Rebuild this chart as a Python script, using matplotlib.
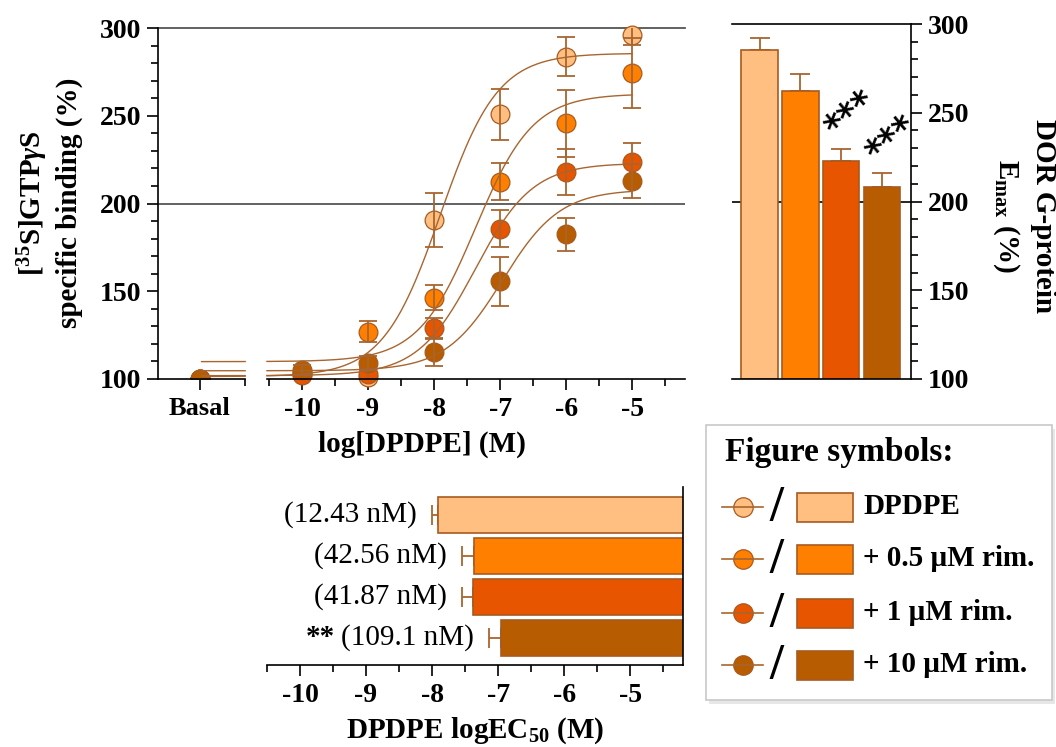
import numpy as np
import matplotlib
matplotlib.use("Agg")
import matplotlib.pyplot as plt
from matplotlib.patches import Rectangle
from matplotlib.ticker import FixedLocator

plt.rcParams['font.family'] = ['Liberation Serif', 'DejaVu Serif']
plt.rcParams['mathtext.fontset'] = 'custom'
plt.rcParams['mathtext.rm'] = 'Liberation Serif:bold'
plt.rcParams['mathtext.bf'] = 'Liberation Serif:bold'
plt.rcParams['mathtext.it'] = 'Liberation Serif:italic:bold'

# ---------------- data ----------------
groups = ["DPDPE", "+ 0.5 µM rim.", "+ 1 µM rim.", "+ 10 µM rim."]
colors = ["#FFBF80", "#FF8000", "#E85500", "#B85C00"]

log_dose = [-10, -9, -8, -7, -6, -5]
basal_value = 100

resp_dpdpe = [103, 101, 190.6, 250.8, 283.6, 296.0]
err_dpdpe = [3, 2, 15.4, 14.4, 11.0, 5.7]
resp_05 = [104, 127, 146.3, 212.4, 245.7, 274.5]
err_05 = [2, 6, 7, 10.5, 19.0, 20.0]
resp_1 = [102, 103, 128.9, 185.6, 218.1, 223.8]
err_1 = [3, 3, 6, 10.6, 13.0, 10.5]
resp_10 = [105, 109, 115.6, 155.8, 182.4, 212.8]
err_10 = [3, 4, 8, 14.0, 9.3, 9.8]

responses = [resp_dpdpe, resp_05, resp_1, resp_10]
errors = [err_dpdpe, err_05, err_1, err_10]

# fitted curve parameters
fit_bottom = [101.4, 109.9, 101.9, 104.7]
emax = [285.6, 262.5, 223.0, 208.0]
emax_err = [6.6, 9.6, 6.8, 8.0]
emax_sig = ["", "", "***", "***"]

logec50 = [-7.906, -7.371, -7.378, -6.962]
logec50_err = [0.10, 0.18, 0.17, 0.18]
ec50_labels = ["(12.43 nM)", "(42.56 nM)", "(41.87 nM)", "(109.1 nM)"]
ec50_sig = ["", "", "", "**"]

main_xticks = [-10, -9, -8, -7, -6, -5]
main_xticklabels = ["-10", "-9", "-8", "-7", "-6", "-5"]
basal_label = "Basal"

# ---------------- style ----------------
W, H = 1056, 747
EDGE = "#A85A20"
CURVE = "#A8652F"
GRID = "#555555"
TICK_FS = 20
LABEL_FS = 21

def px_rect(l, t, r, b):
    return [l / W, 1 - b / H, (r - l) / W, (b - t) / H]

fig = plt.figure(figsize=(W / 100, H / 100), dpi=100)

# ---------------- main dose-response panel ----------------
ax = fig.add_axes(px_rect(158, 28, 685, 379))
basal_x = -11.545
xl, xr = -12.18, -4.2
ax.set_xlim(xl, xr)
ax.set_ylim(100, 300)
for s in ["top", "right", "bottom"]:
    ax.spines[s].set_visible(False)
ax.spines["left"].set_linewidth(1.2)

# broken x axis
trans = ax.get_xaxis_transform()
ax.plot([xl, -10.86], [0, 0], color="black", lw=1.2, transform=trans, clip_on=False, zorder=5)
ax.plot([-10.53, xr], [0, 0], color="black", lw=1.2, transform=trans, clip_on=False, zorder=5)

ax.axhline(300, color=GRID, lw=1.3, zorder=1, clip_on=False)
ax.axhline(200, color=GRID, lw=1.3, zorder=1)

ax.set_xticks([basal_x] + main_xticks)
ax.set_xticklabels([basal_label] + main_xticklabels)
ax.xaxis.set_minor_locator(FixedLocator([-10.86, -10.5, -9.5, -8.5, -7.5, -6.5, -5.5, -4.5]))
ax.set_yticks([100, 150, 200, 250, 300])
ax.yaxis.set_minor_locator(FixedLocator(np.arange(100, 301, 10)))
ax.tick_params(axis="both", which="major", length=8, width=1.2, direction="out")
ax.tick_params(axis="both", which="minor", length=5, width=1.2, direction="out")
ax.tick_params(axis="x", labelsize=TICK_FS, pad=5)
ax.tick_params(axis="y", labelsize=TICK_FS, pad=4)
for lab in ax.get_xticklabels() + ax.get_yticklabels():
    lab.set_fontweight("bold")
ax.get_xticklabels()[0].set_fontsize(19)

ax.set_xlabel("log[DPDPE] (M)", fontsize=LABEL_FS, fontweight="bold", labelpad=6)

xs1 = np.linspace(-11.52, -10.86, 20)
xs2 = np.linspace(-10.53, -5, 300)
for i in range(4):
    b, t, e = fit_bottom[i], emax[i], logec50[i]
    for xs in (xs1, xs2):
        ys = b + (t - b) / (1 + 10 ** (e - xs))
        ax.plot(xs, ys, color=CURVE, lw=1.0, zorder=4)

for i in range(4):
    ax.plot([basal_x], [basal_value], "o", ms=13.5, mfc=colors[i], mec=EDGE, mew=0.9, zorder=3 + 0.1 * i)
    ax.plot(log_dose, responses[i], "o", ms=13.5, mfc=colors[i], mec=EDGE, mew=0.9, zorder=3 + 0.1 * i,
            clip_on=False)
    ax.errorbar(log_dose, responses[i], yerr=errors[i], fmt="none", ecolor=CURVE, elinewidth=1.3,
                capsize=6.5, capthick=1.3, zorder=3.05 + 0.1 * i)

fig.text(49 / W, 1 - 203 / H, "[$^{35}$S]GTP$\\gamma$S\nspecific binding (%)", rotation=90,
         ha="center", va="center", fontsize=LABEL_FS, fontweight="bold", linespacing=1.25,
         multialignment="center")

# ---------------- Emax bar panel ----------------
axb = fig.add_axes(px_rect(732, 24, 911, 379))
axb.set_xlim(-0.674, 3.713)
axb.set_ylim(100, 300)
for s in ["top", "left"]:
    axb.spines[s].set_visible(False)
axb.spines["right"].set_linewidth(1.2)
axb.spines["bottom"].set_linewidth(1.2)
axb.axhline(300, color="black", lw=1.2, zorder=1, clip_on=False)
axb.axhline(200, color="black", lw=1.2, zorder=1)
xb = np.arange(4)
axb.bar(xb, np.array(emax) - 100, bottom=100, width=0.9, color=colors, edgecolor=EDGE, lw=1.2, zorder=2)
axb.errorbar(xb, emax, yerr=[np.zeros(4), emax_err], fmt="none", ecolor=CURVE, elinewidth=1.3,
             capsize=7, capthick=1.3, zorder=1.5)
for i in range(4):
    if emax_sig[i]:
        axb.text(i + 0.24, emax[i] + emax_err[i] + 19, emax_sig[i], rotation=40, ha="center", va="center",
                 fontsize=25, fontweight="bold", family="DejaVu Sans")
axb.set_xticks([])
axb.yaxis.tick_right()
axb.set_yticks([100, 150, 200, 250, 300])
axb.yaxis.set_minor_locator(FixedLocator(np.arange(100, 301, 10)))
axb.tick_params(axis="y", which="major", length=8, width=1.2, direction="out", labelsize=TICK_FS, pad=4)
axb.tick_params(axis="y", which="minor", length=5, width=1.2, direction="out")
for lab in axb.get_yticklabels():
    lab.set_fontweight("bold")

fig.text(1024 / W, 1 - 216 / H, "DOR G-protein\nE$_{\\mathrm{max}}$ (%)", rotation=270,
         ha="center", va="center", fontsize=LABEL_FS, fontweight="bold", linespacing=1.4,
         multialignment="center")

# ---------------- logEC50 panel ----------------
axe = fig.add_axes(px_rect(267, 487, 683, 665))
axe.set_xlim(-10.5, -4.2)
axe.set_ylim(3.66, -0.683)
for s in ["top", "left"]:
    axe.spines[s].set_visible(False)
axe.spines["right"].set_linewidth(1.2)
axe.spines["bottom"].set_linewidth(1.2)
ye = np.arange(4)
axe.barh(ye, 10, left=logec50, height=0.9, color=colors, edgecolor=EDGE, lw=1.2, zorder=2)
axe.errorbar(logec50, ye, xerr=[logec50_err, np.zeros(4)], fmt="none", ecolor=CURVE, elinewidth=1.3,
             capsize=7, capthick=1.3, zorder=1.5)
for i in range(4):
    t = axe.annotate(ec50_labels[i], xy=(logec50[i] - logec50_err[i], ye[i]), xytext=(-11, 0),
                     textcoords="offset points", ha="right", va="center", fontsize=LABEL_FS)
    if ec50_sig[i]:
        axe.annotate(ec50_sig[i], xy=(0, 0.5), xycoords=t, xytext=(-4, 0), textcoords="offset points",
                     ha="right", va="center", fontsize=LABEL_FS, fontweight="bold")
axe.set_yticks([])
axe.set_xticks(main_xticks)
axe.set_xticklabels(main_xticklabels)
axe.xaxis.set_minor_locator(FixedLocator([-10.5, -9.5, -8.5, -7.5, -6.5, -5.5, -4.5]))
axe.tick_params(axis="x", which="major", length=8, width=1.2, direction="out", labelsize=TICK_FS, pad=5)
axe.tick_params(axis="x", which="minor", length=5, width=1.2, direction="out")
for lab in axe.get_xticklabels():
    lab.set_fontweight("bold")
axe.set_xlabel("DPDPE logEC$_{50}$ (M)", fontsize=LABEL_FS, fontweight="bold", labelpad=5)

# ---------------- legend box ----------------
lx0, ly0, lx1, ly1 = 706, 425, 1052, 700
axl = fig.add_axes(px_rect(lx0 - 6, ly0 - 6, lx1 + 4, ly1 + 6))
axl.set_xlim(-6, lx1 - lx0 + 4)
axl.set_ylim(ly1 - ly0 + 6, -6)
axl.axis("off")
axl.add_patch(Rectangle((3, 4), lx1 - lx0, ly1 - ly0, facecolor="#d8d8d8", edgecolor="none", alpha=0.6,
                        zorder=0))
axl.add_patch(Rectangle((0, 0), lx1 - lx0, ly1 - ly0, facecolor="white", edgecolor="#c8c8c8", lw=1.2,
                        zorder=1))
axl.text(19, 27, "Figure symbols:", ha="left", va="center", fontsize=24, fontweight="bold", zorder=3)
row_y = [82, 134, 188, 240]
for i in range(4):
    y = row_y[i]
    axl.plot([16, 57], [y, y], color=CURVE, lw=1.2, zorder=3)
    axl.plot([37], [y], "o", ms=14, mfc=colors[i], mec=EDGE, mew=0.9, zorder=2.5)
    axl.text(70, y + 1, "/", ha="center", va="center", fontsize=36, fontweight="bold", zorder=3)
    axl.add_patch(Rectangle((91, y - 14.5), 56, 29, facecolor=colors[i], edgecolor=EDGE, lw=1.2, zorder=3))
    axl.text(157, y, groups[i], ha="left", va="center", fontsize=LABEL_FS, fontweight="bold", zorder=3)

fig.savefig("out.png", dpi=100)
